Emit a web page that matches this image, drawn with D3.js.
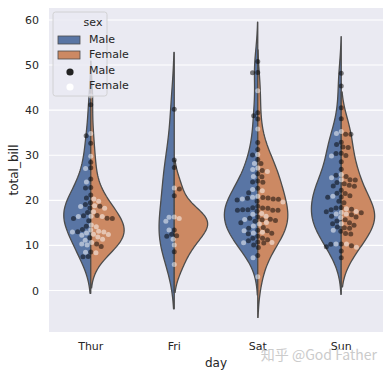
<!DOCTYPE html>
<html>
<head>
<meta charset="utf-8">
<script src="https://cdn.jsdelivr.net/npm/d3@7"></script>
<style>
  body { margin: 0; background: #ffffff; }
  svg text { font-family: "DejaVu Sans", sans-serif; fill: #262626; }
</style>
</head>
<body>
<div id="wrapper"></div>
<script>
// total_bill by day and sex (tips data)
const days = ["Thur", "Fri", "Sat", "Sun"]
const sexes = ["Male", "Female"]
const yTicks = [0, 10, 20, 30, 40, 50, 60]

const thurMale = [27.20, 22.76, 17.29, 19.44, 16.66, 32.68, 15.98, 13.03, 18.28, 24.71, 21.16,
  11.69, 14.26, 15.95, 8.52, 22.82, 19.08, 16.00, 34.30, 41.19, 9.78, 7.51,
  28.44, 15.48, 16.58, 7.56, 10.34, 13.51, 18.71, 20.53]
const thurFemale = [10.07, 34.83, 10.65, 12.43, 24.08, 13.42, 12.48, 29.80, 14.52, 11.38, 20.27,
  11.17, 12.26, 18.26, 8.51, 10.33, 14.15, 13.16, 17.47, 27.05, 16.43, 8.35, 18.64, 11.87,
  19.81, 43.11, 13.00, 12.74, 13.00, 16.40, 16.47, 18.78]
const friMale = [28.97, 22.49, 40.17, 27.28, 12.03, 21.01, 12.46, 12.16, 8.58, 13.42]
const friFemale = [5.75, 16.32, 22.75, 11.35, 15.38, 13.42, 15.98, 16.27, 10.09]
const satMale = [20.65, 17.92, 39.42, 19.82, 17.81, 13.37, 12.69, 21.70, 9.55, 18.35, 17.78,
  24.06, 16.31, 18.69, 31.27, 16.04, 38.01, 11.24, 48.27, 20.29, 13.81, 11.02, 18.29, 17.59,
  20.08, 20.23, 15.01, 12.02, 10.51, 17.92, 15.36, 20.49, 25.21, 18.24, 14.00, 50.81, 15.81,
  26.59, 38.73, 24.27, 30.06, 25.89, 48.33, 28.15, 11.59, 7.74, 20.45, 13.28, 24.01, 15.69,
  11.61, 10.77, 15.53, 10.07, 12.60, 32.83, 29.03, 22.67, 17.82]
const satFemale = [20.29, 15.77, 19.65, 15.06, 20.69, 16.93, 26.41, 16.45, 3.07, 17.07, 26.86,
  25.28, 14.73, 44.30, 22.42, 20.92, 14.31, 7.25, 10.59, 10.63, 12.76, 13.27, 28.17, 12.90,
  30.14, 22.12, 35.83, 27.18]
const sunMale = [10.34, 21.01, 23.68, 25.29, 8.77, 26.88, 15.04, 14.78, 10.27, 15.42, 18.43,
  21.58, 16.29, 17.46, 13.94, 9.68, 30.40, 18.29, 22.23, 32.40, 28.55, 18.04, 12.54, 9.94,
  25.56, 19.49, 38.07, 23.95, 29.93, 14.07, 13.13, 17.26, 24.55, 19.77, 48.17, 16.49, 21.50,
  12.66, 13.81, 24.52, 20.76, 31.71, 7.25, 31.85, 16.82, 32.90, 17.89, 14.48, 34.63, 34.65,
  23.33, 45.35, 23.17, 40.55, 20.69, 30.46, 23.10, 15.69]
const sunFemale = [16.99, 24.59, 35.26, 14.83, 10.33, 16.97, 10.29, 34.81, 25.71, 17.31, 29.85,
  25.00, 13.39, 16.21, 17.51, 9.60, 20.90, 18.15]

async function drawViolins() {

  //..................................................
  // 1. data
  const groups = {
    Thur: { Male: thurMale, Female: thurFemale },
    Fri: { Male: friMale, Female: friFemale },
    Sat: { Male: satMale, Female: satFemale },
    Sun: { Male: sunMale, Female: sunFemale },
  }
  const violinColors = { Male: "#5975a4", Female: "#cc8963" }
  const dotColors = { Male: "#000000", Female: "#ffffff" }
  const lineGray = "#4c4c4c"

  //..................................................
  // 2. dimensions
  let dimensions = {
    width: 389,
    height: 377,
    margin: { top: 8, right: 6, bottom: 45, left: 49 },
  }
  dimensions.boundedWidth = dimensions.width - dimensions.margin.left - dimensions.margin.right
  dimensions.boundedHeight = dimensions.height - dimensions.margin.top - dimensions.margin.bottom

  //..................................................
  // 3. canvas
  const wrapper = d3.select("#wrapper")
    .append("svg")
      .attr("width", dimensions.width)
      .attr("height", dimensions.height)

  const bounds = wrapper.append("g")
    .attr("transform", `translate(${dimensions.margin.left}, ${dimensions.margin.top})`)

  bounds.append("rect")
    .attr("width", dimensions.boundedWidth)
    .attr("height", dimensions.boundedHeight)
    .attr("fill", "#eaeaf2")

  //..................................................
  // 4. scales
  const xScale = d3.scaleBand()
    .domain(days)
    .range([0, dimensions.boundedWidth])
    .padding(0)

  const yScale = d3.scaleLinear()
    .domain([-9.2, 62.65])
    .range([dimensions.boundedHeight, 0])

  const halfWidth = xScale.bandwidth() * 0.4

  // gaussian kde, scott's rule like scipy, cut = 2
  const kde = (values) => {
    const n = values.length
    const sd = d3.deviation(values)
    const bw = sd * Math.pow(n, -1 / 5)
    const [lo, hi] = d3.extent(values)
    const support = d3.range(100).map(i => lo - 2 * bw + i * (hi - lo + 4 * bw) / 99)
    const norm = 1 / (n * bw * Math.sqrt(2 * Math.PI))
    return support.map(y => [y, norm * d3.sum(values, v => Math.exp(-0.5 * ((y - v) / bw) ** 2))])
  }

  // gridlines
  bounds.append("g")
    .selectAll("line")
    .data(yTicks)
    .join("line")
      .attr("x1", 0)
      .attr("x2", dimensions.boundedWidth)
      .attr("y1", d => yScale(d))
      .attr("y2", d => yScale(d))
      .attr("stroke", "#ffffff")
      .attr("stroke-width", 1.1)

  //..................................................
  // 5. draw data
  days.forEach(day => {
    const center = xScale(day) + xScale.bandwidth() / 2
    const dens = sexes.map(sex => kde(groups[day][sex]))
    const maxD = d3.max(dens.flat(), d => d[1])  // scale within the day

    sexes.forEach((sex, j) => {
      const side = j === 0 ? -1 : 1
      const area = d3.area()
        .y(d => yScale(d[0]))
        .x0(center)
        .x1(d => center + side * d[1] / maxD * halfWidth)
      bounds.append("path")
        .datum(dens[j])
        .attr("d", area)
        .attr("fill", violinColors[sex])
        .attr("stroke", lineGray)
        .attr("stroke-width", 1.3)
        .attr("stroke-linejoin", "round")
    })

    // swarm
    const pts = []
    sexes.forEach(sex => groups[day][sex].forEach(v => pts.push({ sex, v, y: yScale(v) })))
    const order = d3.range(pts.length).sort((a, b) => pts[a].y - pts[b].y)
    const dd = 5
    const placed = []
    order.forEach(i => {
      const p = pts[i]
      const near = placed.filter(q => Math.abs(q.y - p.y) < dd)
      let cands = [center]
      near.forEach(q => {
        const dx = Math.sqrt(dd * dd - (p.y - q.y) ** 2) * 1.05
        cands.push(q.x - dx, q.x + dx)
      })
      cands.sort((a, b) => Math.abs(a - center) - Math.abs(b - center))
      const x = cands.find(c => near.every(q => (q.x - c) ** 2 + (q.y - p.y) ** 2 >= dd * dd - 1e-6))
      p.x = x
      placed.push(p)
    })
    bounds.append("g")
      .selectAll("circle")
      .data(pts)
      .join("circle")
        .attr("cx", d => d.x)
        .attr("cy", d => d.y)
        .attr("r", dd / 2)
        .attr("fill", d => dotColors[d.sex])
        .attr("fill-opacity", 0.5)
  })

  //..................................................
  // 6. draw peripherals
  const yAxis = bounds.append("g")
    .call(d3.axisLeft(yScale).tickValues(yTicks).tickSize(0).tickPadding(10))
  yAxis.select(".domain").remove()
  yAxis.selectAll("text")
    .attr("font-size", 11)
    .attr("fill", "#262626")

  const xAxis = bounds.append("g")
    .attr("transform", `translate(0, ${dimensions.boundedHeight})`)
    .call(d3.axisBottom(xScale).tickSize(0).tickPadding(10))
  xAxis.select(".domain").remove()
  xAxis.selectAll("text")
    .attr("font-size", 11)
    .attr("fill", "#262626")

  bounds.append("text")
    .attr("x", dimensions.boundedWidth / 2)
    .attr("y", dimensions.boundedHeight + 35)
    .attr("text-anchor", "middle")
    .attr("font-size", 12)
    .text("day")

  bounds.append("text")
    .attr("transform", `translate(${-dimensions.margin.left + 14}, ${dimensions.boundedHeight / 2}) rotate(-90)`)
    .attr("text-anchor", "middle")
    .attr("dominant-baseline", "middle")
    .attr("font-size", 12)
    .text("total_bill")

  // legend
  const legend = bounds.append("g")
    .attr("transform", "translate(4, 4)")
  legend.append("rect")
    .attr("width", 54)
    .attr("height", 84)
    .attr("rx", 2.5)
    .attr("fill", "#eaeaf2")
    .attr("fill-opacity", 0.8)
    .attr("stroke", "#cccccc")
    .attr("stroke-width", 0.8)
  legend.append("text")
    .attr("x", 40)
    .attr("y", 11)
    .attr("text-anchor", "middle")
    .attr("dominant-baseline", "middle")
    .attr("font-size", 11)
    .text("sex")
  sexes.forEach((sex, i) => {
    legend.append("rect")
      .attr("x", 5)
      .attr("y", 24 + i * 15)
      .attr("width", 22)
      .attr("height", 8)
      .attr("fill", violinColors[sex])
      .attr("stroke", lineGray)
      .attr("stroke-width", 0.8)
    legend.append("text")
      .attr("x", 36)
      .attr("y", 28 + i * 15)
      .attr("dominant-baseline", "middle")
      .attr("font-size", 11)
      .text(sex)
    legend.append("circle")
      .attr("cx", 17)
      .attr("cy", 60 + i * 15)
      .attr("r", 3.6)
      .attr("fill", i === 0 ? "#222222" : "#ffffff")
    legend.append("text")
      .attr("x", 36)
      .attr("y", 59 + i * 15)
      .attr("dominant-baseline", "middle")
      .attr("font-size", 11)
      .text(sex)
  })

  // watermark
  wrapper.append("text")
    .attr("x", 377)
    .attr("y", 360)
    .attr("text-anchor", "end")
    .attr("font-size", 14)
    .style("font-family", "'Noto Sans CJK SC', sans-serif")
    .style("fill", "#cbcbcb")
    .text("知乎 @God Father")
}
drawViolins()
</script>
</body>
</html>
